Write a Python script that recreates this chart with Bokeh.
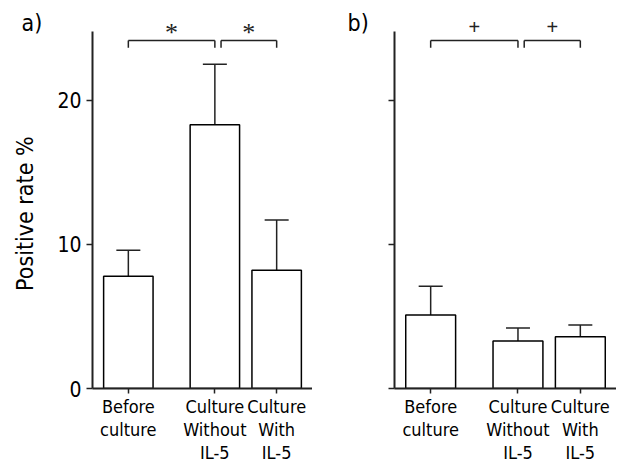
from bokeh.plotting import figure
from bokeh.models import (FactorRange, Range1d, Whisker, TeeHead, ColumnDataSource,
                          FixedTicker)
from bokeh.layouts import row
from bokeh.embed import file_html
from bokeh.resources import INLINE
from bokeh.core.properties import value

# ---------------- data ----------------
groups = ["before", "culture", "culture"]
categories = ["Before\nculture", "Culture\nWithout\nIL-5", "Culture\nWith\nIL-5"]
a_means = [7.8, 18.3, 8.2]
a_errors = [1.8, 4.2, 3.5]
b_means = [5.1, 3.3, 3.6]
b_errors = [2.0, 0.9, 0.8]
y_ticks = [0, 10, 20]
pairs = [(0, 1), (1, 2)]
a_marks = ["*", "*"]
b_marks = ["+", "+"]
y_label = "Positive rate %"

# ---------------- style ----------------
FONT = "DejaVu Sans Condensed"
INK = "#222222"
GROUP_PAD = 0.4
RANGE_PAD = 0.08
Y_END = 26.1
AXIS_TOP = 24.8
BR_TOP = 24.15
BR_LEG = 0.5
BR_GAP = 0.1
FRAME_H = 376
TOP_BORDER = 12
BOTTOM_BORDER = 75
LABEL_SHIFT = "\u00a0" * 4   # nudges the rotated y label toward the axis middle

factors = list(zip(groups, categories))


def panel(means, errors, marks, mark_font, mark_size, mark_y, tag, tag_offset,
          show_labels, border_left, frame_w):
    xr = FactorRange(*factors, group_padding=GROUP_PAD, range_padding=RANGE_PAD,
                     range_padding_units="absolute")
    p = figure(x_range=xr, y_range=Range1d(0, Y_END), frame_width=frame_w,
               frame_height=FRAME_H, min_border_left=border_left, min_border_right=0,
               min_border_top=TOP_BORDER, min_border_bottom=BOTTOM_BORDER,
               output_backend="svg", toolbar_location=None,
               background_fill_color="white", border_fill_color="white")
    p.outline_line_color = None
    p.grid.visible = False

    # panel tag, e.g. "a)"
    p.title.text = tag
    p.title.align = "left"
    p.title.vertical_align = "bottom"
    p.title.offset = tag_offset
    p.title.standoff = -46
    p.title.text_font = FONT
    p.title.text_font_size = "23px"
    p.title.text_font_style = "normal"
    p.title.text_color = "black"

    src = ColumnDataSource(dict(x=factors, top=means,
                                upper=[m + e for m, e in zip(means, errors)]))
    p.add_layout(Whisker(base="x", lower="top", upper="upper", source=src,
                         dimension="height", line_color=INK, line_width=1.5,
                         lower_head=None,
                         upper_head=TeeHead(size=24, line_color=INK, line_width=1.5)))
    p.vbar(x="x", top="top", bottom=0, width=0.8, source=src, fill_color="white",
           line_color="black", line_width=1.5)

    # significance brackets
    x0s, x1s, y0s, y1s, tx, ty, tt = [], [], [], [], [], [], []
    for k, ((i, j), m) in enumerate(zip(pairs, marks)):
        off = BR_GAP if k > 0 else 0.0
        a = factors[i] + (off,)
        b = factors[j] + (0.0,)
        x0s += [a, a, b]
        x1s += [b, a, b]
        y0s += [BR_TOP, BR_TOP - BR_LEG, BR_TOP - BR_LEG]
        y1s += [BR_TOP, BR_TOP, BR_TOP]
        dist = (1 + GROUP_PAD) if groups[i] != groups[j] else 1.0
        tx.append(factors[i] + ((dist + off) / 2.0,))
        ty.append(mark_y)
        tt.append(m)
    p.segment(x0=x0s, y0=y0s, x1=x1s, y1=y1s, line_color=INK, line_width=1.5)
    p.text(x=tx, y=ty, text=tt, text_font=value(mark_font), text_font_size=mark_size,
           text_align="center", text_baseline="middle", text_color=INK)

    # axes
    yax = p.yaxis[0]
    yax.ticker = FixedTicker(ticks=y_ticks)
    yax.bounds = (0, AXIS_TOP)
    yax.axis_line_width = 2
    yax.axis_line_color = INK
    yax.major_tick_line_color = INK
    yax.major_tick_line_width = 1.5
    yax.major_tick_out = 6
    yax.major_tick_in = 0
    yax.minor_tick_line_color = None
    yax.major_label_text_font = FONT
    yax.major_label_text_font_size = "21px"
    yax.major_label_text_color = "black" if show_labels else None
    yax.major_label_standoff = 5
    if show_labels:
        yax.axis_label = y_label + LABEL_SHIFT
        yax.axis_label_text_font = FONT
        yax.axis_label_text_font_size = "23px"
        yax.axis_label_text_font_style = "normal"
        yax.axis_label_text_color = "black"
        yax.axis_label_standoff = 16

    xax = p.xaxis[0]
    xax.axis_line_width = 2
    xax.axis_line_color = INK
    xax.major_tick_line_color = INK
    xax.major_tick_line_width = 1.5
    xax.major_tick_out = 5
    xax.major_tick_in = 0
    xax.major_label_text_font = FONT
    xax.major_label_text_font_size = "18px"
    xax.major_label_text_color = "black"
    xax.major_label_text_line_height = 1.1
    xax.major_label_standoff = 2
    xax.group_text_font_size = "0px"
    xax.group_text_color = None
    xax.separator_line_color = None
    xax.major_label_orientation = "horizontal"
    return p


pa = panel(a_means, a_errors, a_marks, "Liberation Serif", "26px", 24.7, "a)", -71,
           True, 92, 220)
pb = panel(b_means, b_errors, b_marks, "Liberation Sans", "20px", 25.07, "b)", -47,
           False, 82, 222)

layout = row(pa, pb)
open("out.html", "w").write(file_html(layout, INLINE))
